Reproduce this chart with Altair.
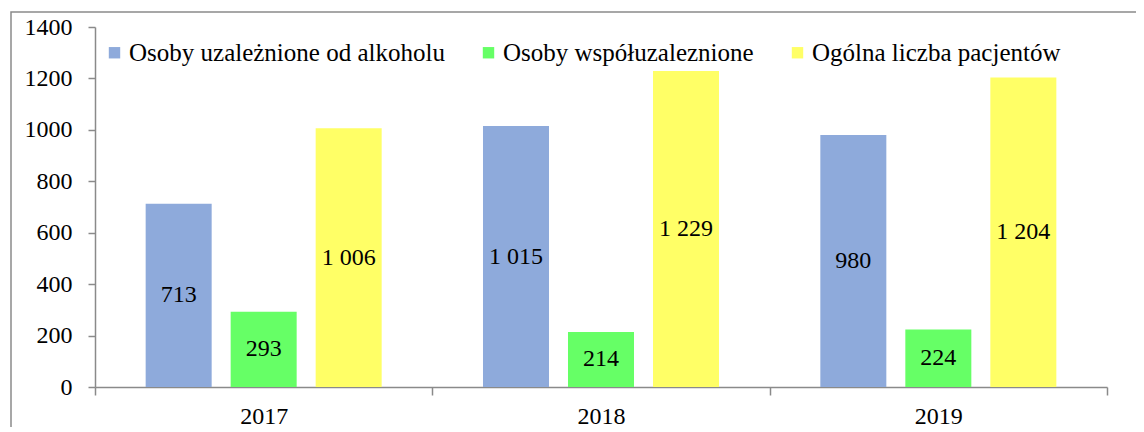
import altair as alt
import pandas as pd

years = ["2017", "2018", "2019"]
series = ["Osoby uzależnione od alkoholu", "Osoby współuzaleznione", "Ogólna liczba pacjentów"]
alkohol = [713, 1015, 980]
wspol = [293, 214, 224]
ogolna = [1006, 1229, 1204]
colors = ["#8EAADB", "#66FF66", "#FFFF66"]
y_ticks = [0, 200, 400, 600, 800, 1000, 1200, 1400]

rows = []
for i, yr in enumerate(years):
    for s, vals in zip(series, [alkohol, wspol, ogolna]):
        v = vals[i]
        rows.append({"year": yr, "series": s, "value": v,
                     "label": f"{v:,}".replace(",", " ")})
df = pd.DataFrame(rows)

FONT = "Liberation Serif"
GREY = "#8a8a8a"
FS = 24

x = alt.X("year:N", sort=years, title=None,
          scale=alt.Scale(paddingInner=0, paddingOuter=0),
          axis=alt.Axis(tickBand="extent", labelAngle=0, labelFont=FONT, labelFontSize=FS,
                        labelColor="black", domainColor=GREY, tickColor=GREY,
                        domainWidth=1.5, tickWidth=1.5, tickSize=8, labelPadding=9))
xo = alt.XOffset("series:N", sort=series,
                 scale=alt.Scale(domain=series, paddingInner=0.2235, paddingOuter=0.596))
y_axis = alt.Axis(values=y_ticks, format="d", title=None, grid=False, labelFont=FONT,
                  labelFontSize=FS, labelColor="black", domainColor=GREY, tickColor=GREY,
                  domainWidth=1.5, tickWidth=1.5, tickSize=7, labelPadding=16)

frame = alt.Chart(pd.DataFrame({"f": [0]})).mark_rect(
    fill="transparent", stroke=GREY, strokeWidth=1.5
).encode(x=alt.value(-84), x2=alt.value(3000), y=alt.value(-15), y2=alt.value(3000))

bars = alt.Chart(df).mark_bar(strokeWidth=0).encode(
    x=x,
    xOffset=xo,
    y=alt.Y("value:Q", scale=alt.Scale(domain=[0, 1400], nice=False), axis=y_axis),
    color=alt.Color("series:N", sort=series,
                    scale=alt.Scale(domain=series, range=colors),
                    legend=alt.Legend(title=None, orient="none", legendX=7, legendY=13,
                                      direction="horizontal", symbolType="square",
                                      symbolSize=130, symbolStrokeWidth=0,
                                      labelFont=FONT, labelFontSize=25, labelColor="black",
                                      labelOffset=2, columnPadding=31, labelLimit=600)),
)

labels = alt.Chart(df).transform_calculate(mid="datum.value / 2").mark_text(
    font=FONT, fontSize=FS, baseline="middle", align="center", color="black"
).encode(x=x, xOffset=xo, y=alt.Y("mid:Q"), text="label:N")

chart = alt.layer(frame, bars, labels).properties(
    width=1012, height=360,
    padding={"left": 87, "top": 19, "right": 29, "bottom": 40},
    autosize=alt.AutoSizeParams(type="none"),
    background="white",
).configure_view(stroke=None)

chart.save("out.html", embed_options={"renderer": "svg", "actions": False})
